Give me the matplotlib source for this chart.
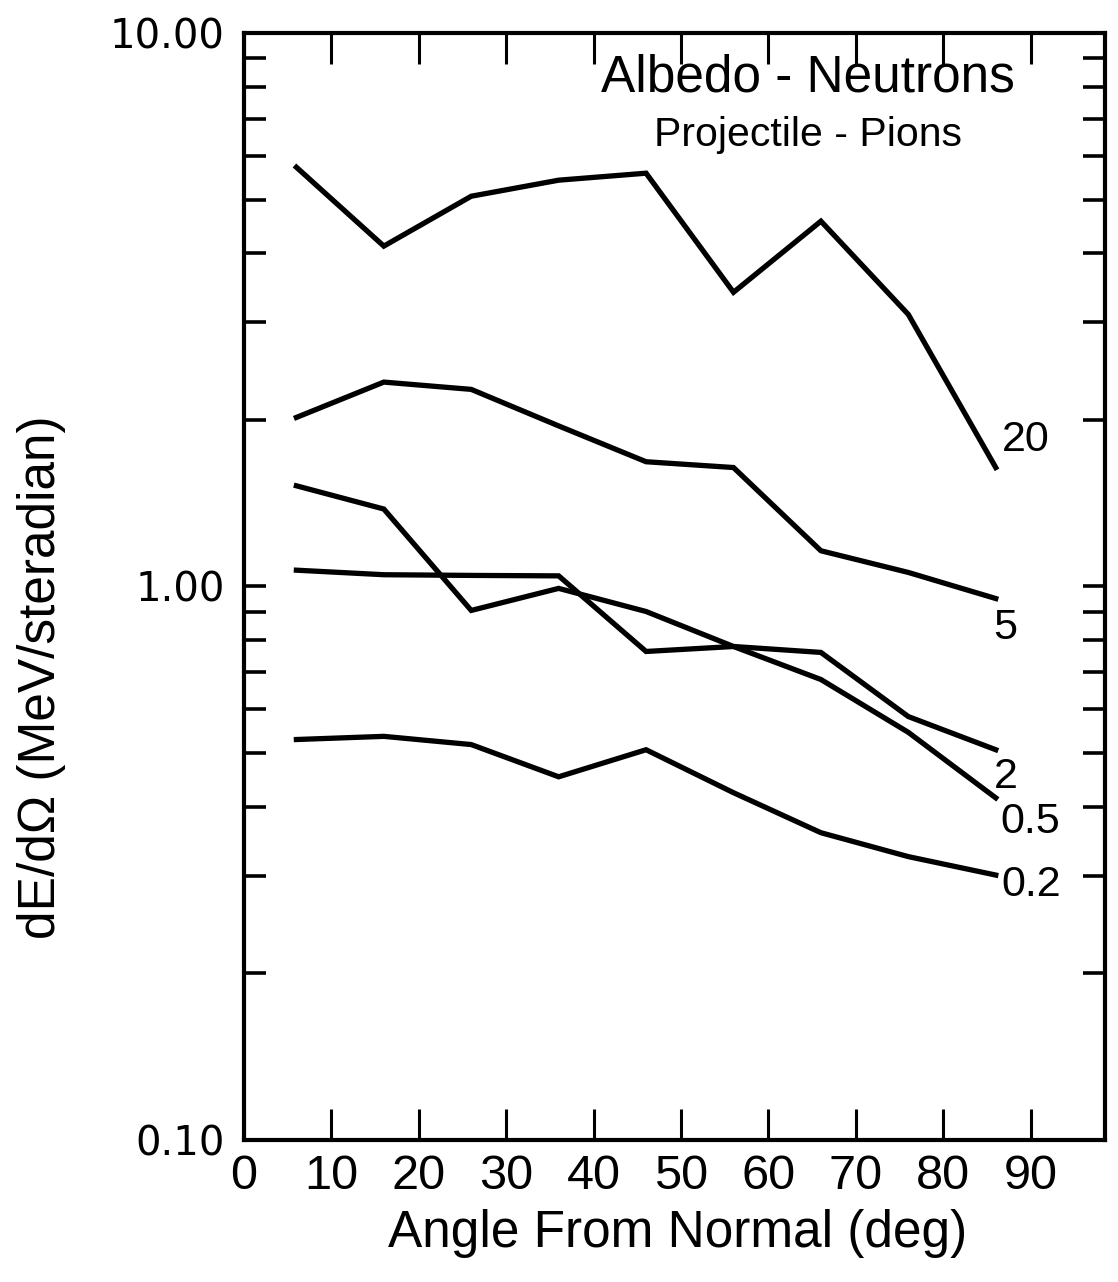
import matplotlib
matplotlib.use("Agg")
import matplotlib.pyplot as plt
from matplotlib.ticker import FixedLocator, NullFormatter

# ---- data ----
angles = [6, 16, 26, 36, 46, 56, 66, 76, 86]
e20 = [5.72, 4.12, 5.07, 5.42, 5.58, 3.40, 4.57, 3.10, 1.64]
e5 = [2.02, 2.34, 2.27, 1.95, 1.68, 1.64, 1.16, 1.06, 0.951]
e2 = [1.07, 1.05, 1.047, 1.045, 0.763, 0.779, 0.760, 0.582, 0.507]
e05 = [1.52, 1.38, 0.905, 0.992, 0.901, 0.779, 0.679, 0.545, 0.415]
e02 = [0.529, 0.536, 0.518, 0.453, 0.507, 0.424, 0.359, 0.325, 0.301]
series = [e20, e5, e2, e05, e02]
curve_labels = ["20", "5", "2", "0.5", "0.2"]
label_pos = [(89.4, 1.84), (87.1, 0.843), (87.1, 0.453), (90.0, 0.376), (90.0, 0.289)]

xticks = [0, 10, 20, 30, 40, 50, 60, 70, 80, 90]
xticklabels = ["0", "10", "20", "30", "40", "50", "60", "70", "80", "90"]
yticks_major = [0.1, 1.0, 10.0]
yticklabels = ["0.10", "1.00", "10.00"]
yticks_minor = [m * d for d in (0.1, 1.0) for m in range(2, 10)]

title1 = "Albedo - Neutrons"
title2 = "Projectile - Pions"
xlabel = "Angle From Normal (deg)"
ylabel = "dE/dΩ (MeV/steradian)"

# ---- figure ----
sans = ["Liberation Sans", "DejaVu Sans"]
plt.rcParams["font.family"] = sans

fig = plt.figure(figsize=(11.18, 12.82), dpi=100)
ax = fig.add_axes([0.2182, 0.1108, 0.9884 - 0.2182, 0.9743 - 0.1108])

for ys in series:
    ax.plot(angles, ys, color="black", lw=3.8, solid_joinstyle="miter")

ax.set_yscale("log")
ax.set_xlim(0, 98.5)
ax.set_ylim(0.1, 10)

ax.xaxis.set_major_locator(FixedLocator(xticks))
ax.set_xticklabels(xticklabels, fontsize=35)
ax.yaxis.set_major_locator(FixedLocator(yticks_major))
ax.yaxis.set_minor_locator(FixedLocator(yticks_minor))
ax.yaxis.set_minor_formatter(NullFormatter())
ax.set_yticklabels(yticklabels, fontsize=29, family=["DejaVu Sans"])

ax.tick_params(axis="x", which="major", direction="in", length=22, width=2.2,
               top=True, bottom=True, pad=10)
ax.tick_params(axis="y", which="both", direction="in", length=16, width=2.6,
               left=True, right=True, pad=14)

for s in ax.spines.values():
    s.set_linewidth(3.0)

ax.set_xlabel(xlabel, fontsize=37)
ax.xaxis.set_label_coords(0.504, -0.062)
ax.set_ylabel(ylabel, fontsize=37)
ax.yaxis.set_label_coords(-0.207, 0.418)

ax.text(0.655, 0.959, title1, transform=ax.transAxes, ha="center", va="center",
        fontsize=37)
ax.text(0.655, 0.908, title2, transform=ax.transAxes, ha="center", va="center",
        fontsize=29.5)

for lab, (lx, ly) in zip(curve_labels, label_pos):
    ax.text(lx, ly, lab, ha="center", va="center", fontsize=31)

fig.savefig("out.png", dpi=100, facecolor="white")
